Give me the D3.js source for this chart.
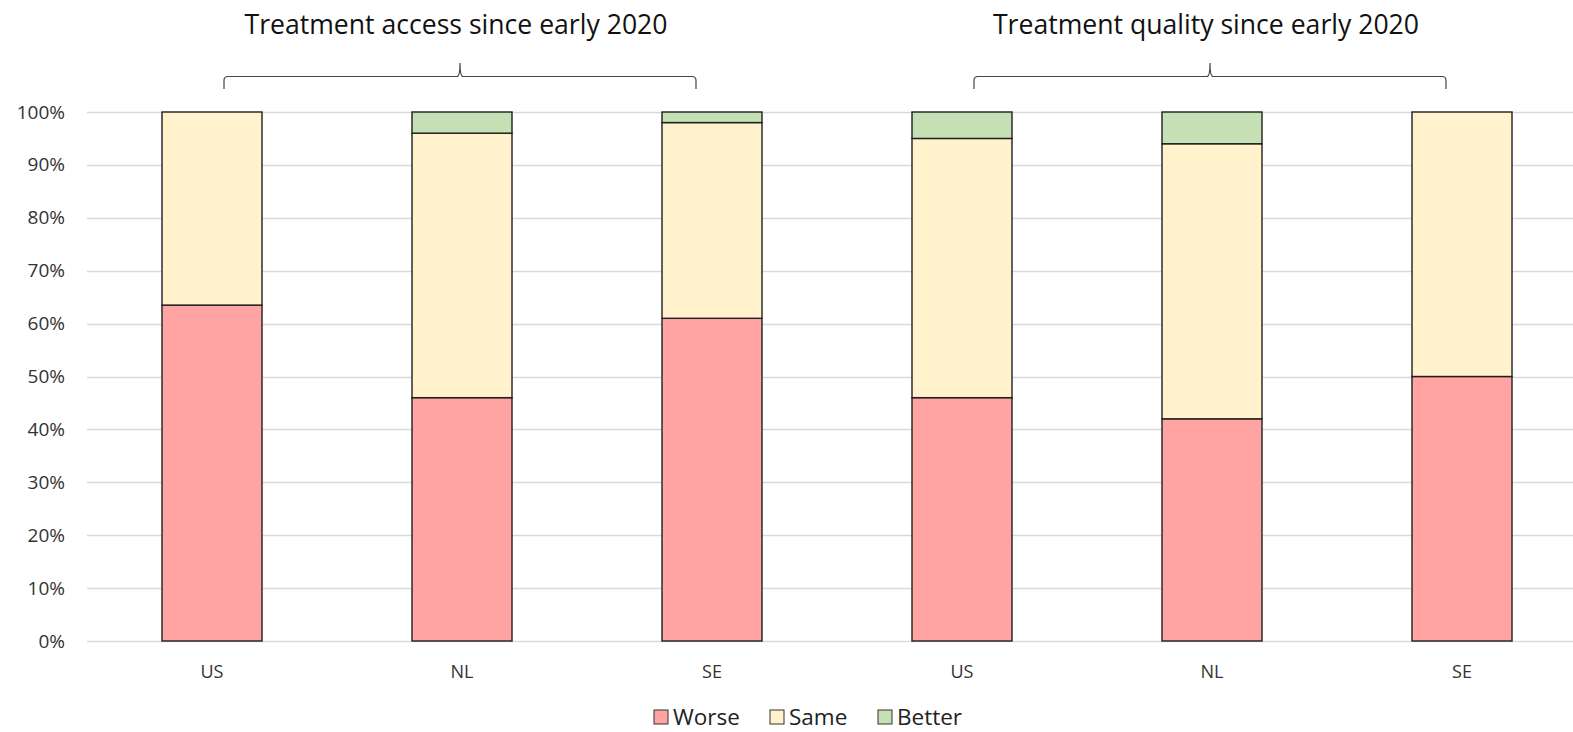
<!DOCTYPE html>
<html>
<head>
<meta charset="utf-8">
<script src="https://cdn.jsdelivr.net/npm/d3@7"></script>
<style>
  html, body { margin: 0; padding: 0; background: #fff; }
  svg { display: block; font-family: "Open Sans", sans-serif; }
</style>
</head>
<body>
<svg id="chart" width="1573" height="732"></svg>
<script>
// Survey responses: share of respondents (%) per country and question
const groupTitles = ["Treatment access since early 2020", "Treatment quality since early 2020"];
const countries = ["US", "NL", "SE", "US", "NL", "SE"];
const groupOf = [0, 0, 0, 1, 1, 1];
const worse = [63.5, 46, 61, 46, 42, 50];
const same = [36.5, 50, 37, 49, 52, 50];
const better = [0, 4, 2, 5, 6, 0];
const seriesNames = ["Worse", "Same", "Better"];
const seriesColors = ["#ffa3a3", "#fff2cc", "#c5e0b4"];
const yTicks = [0, 10, 20, 30, 40, 50, 60, 70, 80, 90, 100];

const svg = d3.select("#chart");
const plot = { left: 87, right: 1587, top: 112, bottom: 641 };

const rows = countries.map((c, i) => ({ key: i, country: c, Worse: worse[i], Same: same[i], Better: better[i] }));

const x = d3.scaleBand()
  .domain(rows.map(d => d.key))
  .range([plot.left, plot.right])
  .paddingInner(0.6)
  .paddingOuter(0.3);

const y = d3.scaleLinear().domain([0, 100]).range([plot.bottom, plot.top]);
const color = d3.scaleOrdinal().domain(seriesNames).range(seriesColors);

// Gridlines
svg.append("g")
  .selectAll("line")
  .data(yTicks)
  .join("line")
  .attr("x1", plot.left)
  .attr("x2", plot.right)
  .attr("y1", d => Math.round(y(d)) + 0.5)
  .attr("y2", d => Math.round(y(d)) + 0.5)
  .attr("stroke", "#d9d9d9")
  .attr("stroke-width", 1.3);

// Y axis labels
const yAxis = d3.axisLeft(y).tickValues(yTicks).tickFormat(d => d + "%").tickSize(0).tickPadding(0);
const gy = svg.append("g").attr("transform", `translate(65,0)`).call(yAxis);
gy.select(".domain").remove();
gy.selectAll("text").attr("font-size", 19).attr("fill", "#333").attr("font-family", "'Open Sans', sans-serif");

// Stacked bars
const stack = d3.stack().keys(seriesNames);
const layers = stack(rows);
svg.append("g")
  .selectAll("g")
  .data(layers)
  .join("g")
  .attr("fill", d => color(d.key))
  .selectAll("rect")
  .data(d => d.filter(s => s[1] - s[0] > 0))
  .join("rect")
  .attr("x", d => x(d.data.key))
  .attr("width", x.bandwidth())
  .attr("y", d => y(d[1]))
  .attr("height", d => y(d[0]) - y(d[1]))
  .attr("stroke", "#1f1f1f")
  .attr("stroke-width", 1.4);

// Category labels
const xAxis = d3.axisBottom(x).tickFormat(k => countries[k]).tickSize(0).tickPadding(0);
const gx = svg.append("g").attr("transform", `translate(0,${plot.bottom + 31})`).call(xAxis);
gx.select(".domain").remove();
gx.selectAll("text").attr("font-size", 18).attr("fill", "#333").attr("dy", "0.35em")
  .attr("font-family", "'Open Sans', sans-serif");

// Group brackets and titles
groupTitles.forEach((title, g) => {
  const keys = rows.filter((d, i) => groupOf[i] === g).map(d => d.key);
  const c0 = x(keys[0]) + x.bandwidth() / 2;
  const c1 = x(keys[keys.length - 1]) + x.bandwidth() / 2;
  const x0 = c0 + 12, x1 = c1 - 16, xm = (x0 + x1) / 2;
  const yl = 76.5, yEnd = 89, yTip = 63, r = 4;
  const path = d3.path();
  path.moveTo(x0, yEnd);
  path.lineTo(x0, yl + r);
  path.quadraticCurveTo(x0, yl, x0 + r, yl);
  path.lineTo(xm - 3, yl);
  path.quadraticCurveTo(xm, yl, xm, yTip);
  path.quadraticCurveTo(xm, yl, xm + 3, yl);
  path.lineTo(x1 - r, yl);
  path.quadraticCurveTo(x1, yl, x1, yl + r);
  path.lineTo(x1, yEnd);
  svg.append("path")
    .attr("d", path.toString())
    .attr("fill", "none")
    .attr("stroke", "#444")
    .attr("stroke-width", 1.2);
  svg.append("text")
    .attr("x", xm - 4)
    .attr("y", 34)
    .attr("text-anchor", "middle")
    .attr("font-size", 26.6)
    .attr("fill", "#111")
    .text(title);
});

// Legend
const legendItems = [
  { name: "Worse", x: 654 },
  { name: "Same", x: 770 },
  { name: "Better", x: 878 }
];
const lg = svg.append("g");
legendItems.forEach(it => {
  lg.append("rect")
    .attr("x", it.x)
    .attr("y", 710)
    .attr("width", 14)
    .attr("height", 14)
    .attr("fill", color(it.name))
    .attr("stroke", "#333")
    .attr("stroke-width", 1);
  lg.append("text")
    .attr("x", it.x + 19)
    .attr("y", 725)
    .attr("font-size", 22.5)
    .attr("fill", "#222")
    .text(it.name);
});
</script>
</body>
</html>
